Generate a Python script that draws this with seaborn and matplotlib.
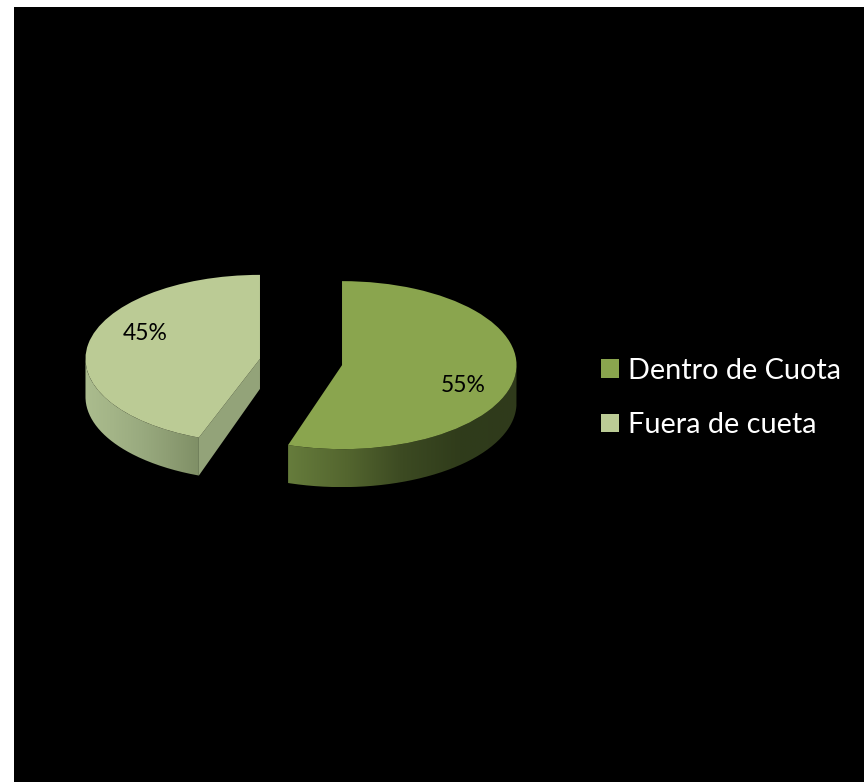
import numpy as np
import pandas as pd
import matplotlib
matplotlib.use("Agg")
import matplotlib.pyplot as plt
from matplotlib.colors import LinearSegmentedColormap
from matplotlib.patches import Patch, PathPatch
from matplotlib.path import Path
import seaborn as sns

# ---- data ----
categories = ["Dentro de Cuota", "Fuera de cueta"]
shares = [55, 45]

# ---- styles ----
top_colors = ["#8aa54e", "#bbcb95"]
wall_colors = [["#667c3c", "#54662f", "#3c4a22", "#303c1b", "#2f3a1b"],
               ["#abbc8e", "#a3b487", "#99aa7f", "#8d9d73", "#7f8f66"]]
cut_color = "#93a379"

W, H = 864, 782
RX, RY = 174.5, 84.0     # pixel size of the unit radius
CX, CY = 301.0, 362.0    # pixel centre of the unexploded pie
DEPTH = 38.0 / RY
PERSPECTIVE_DEG = 2.5    # the original's 3D view widens the front of the left slice
TIP_LIFT = 8.0 / RY      # and shortens its cut face towards the back

sns.set_theme(style="white")
plt.rcParams["font.family"] = ["Lato", "DejaVu Sans"]
df = pd.DataFrame({"category": categories, "share": shares})
palette = sns.color_palette(top_colors)

fig = plt.figure(figsize=(W / 100, H / 100), dpi=100, facecolor="white")
ax = fig.add_axes([14 / W, 0, (W - 14) / W, (H - 7) / H], facecolor="black")

wedges, _, pct = ax.pie(
    df["share"], colors=palette, startangle=90, counterclock=False,
    explode=[0.238, 0.238], autopct="%d%%", frame=True,
    textprops=dict(color="black", fontsize=16.5),
    wedgeprops=dict(linewidth=0),
)
wedges[1].set_theta2(wedges[1].theta2 - PERSPECTIVE_DEG)
for w in wedges:
    w.set_zorder(5)
for t in pct:
    t.set_zorder(7)


def rim(w, a, b):
    ang = np.radians(np.linspace(a, b, 120))
    return w.center[0] + w.r * np.cos(ang), w.center[1] + w.r * np.sin(ang)


# the rim shows from the cut edge round to the widest point on each side
rim_ranges = [(wedges[0].theta1, 0.0), (-180.0, wedges[1].theta2)]
for i, (w, (a, b)) in enumerate(zip(wedges, rim_ranges)):
    x, y = rim(w, a, b)
    poly = np.r_[np.c_[x, y], np.c_[x[::-1], y[::-1] - DEPTH], [[x[0], y[0]]]]
    patch = PathPatch(Path(poly), fc="none", ec="none", transform=ax.transData)
    ax.add_patch(patch)
    cmap = LinearSegmentedColormap.from_list("w", wall_colors[i])
    img = ax.imshow(
        np.linspace(0, 1, 256)[None, :], cmap=cmap, aspect="auto", zorder=3,
        extent=(x.min(), x.max(), y.min() - DEPTH, y.max()),
    )
    img.set_clip_path(patch)

# cut face of the left slice, seen from the front
w = wedges[1]
edge_ang = np.radians(w.theta2)
ex = w.center[0] + w.r * np.cos(edge_ang)
ey = w.center[1] + w.r * np.sin(edge_ang)
ax.fill([w.center[0], ex, ex, w.center[0]],
        [w.center[1], ey, ey - DEPTH, w.center[1] - DEPTH + TIP_LIFT],
        color=cut_color, lw=0, zorder=4)

# percent labels moved onto the slice as in the original
label_px = [(463, 385), (145, 333)]
for t, (px, py) in zip(pct, label_px):
    t.set_position(((px - CX) / RX, (CY - py) / RY))

ax.set_aspect("auto")
ax.set_xlim((14 - CX) / RX, (W - CX) / RX)
ax.set_ylim((CY - H) / RY, (CY - 7) / RY)
ax.set_xticks([])
ax.set_yticks([])
for s in ax.spines.values():
    s.set_visible(False)

FS = 20.8
F = FS * 100 / 72
handles = [Patch(fc=c, ec="none") for c in palette]
leg = fig.legend(
    handles, categories, loc="center left", bbox_to_anchor=(601 / W, 1 - 398 / H),
    frameon=False, fontsize=FS, labelcolor="white", borderpad=0, borderaxespad=0,
    handlelength=18 / F, handleheight=18 / F, handletextpad=9 / F, labelspacing=0.98,
)
fig.savefig("out.png", dpi=100, facecolor="white")
